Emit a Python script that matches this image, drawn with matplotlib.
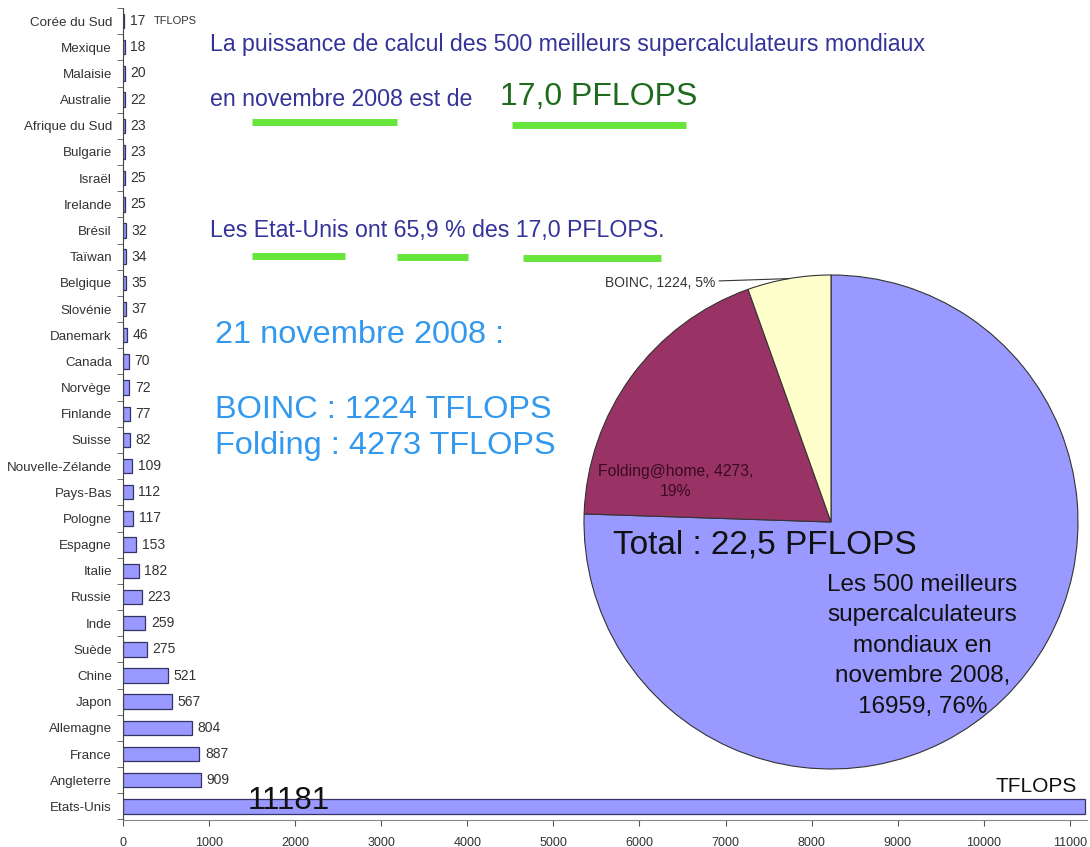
import matplotlib
matplotlib.use("Agg")
import matplotlib.pyplot as plt
import numpy as np

plt.rcParams['font.family'] = ['Liberation Sans', 'DejaVu Sans']

countries = ["Corée du Sud", "Mexique", "Malaisie", "Australie", "Afrique du Sud",
             "Bulgarie", "Israël", "Irelande", "Brésil", "Taïwan", "Belgique",
             "Slovénie", "Danemark", "Canada", "Norvège", "Finlande", "Suisse",
             "Nouvelle-Zélande", "Pays-Bas", "Pologne", "Espagne", "Italie",
             "Russie", "Inde", "Suède", "Chine", "Japon", "Allemagne", "France",
             "Angleterre", "Etats-Unis"]
tflops = [17, 18, 20, 22, 23, 23, 25, 25, 32, 34, 35, 37, 46, 70, 72, 77, 82,
          109, 112, 117, 153, 182, 223, 259, 275, 521, 567, 804, 887, 909, 11181]
xticks = list(range(0, 11001, 1000))

pie_labels = ["Les 500 meilleurs\nsupercalculateurs\nmondiaux en\nnovembre 2008,\n16959, 76%",
              "Folding@home, 4273,\n19%", "BOINC, 1224, 5%"]
pie_values = [16959, 4273, 1224]
pie_colors = ["#9999FF", "#993366", "#FFFFCC"]

W, H = 1090, 847
fig = plt.figure(figsize=(W / 100, H / 100), dpi=100)

def fx(px):
    return px / W

def fy(py):
    return 1 - py / H

# ---- bar chart ----
ax = fig.add_axes([fx(123), fy(820), fx(1087) - fx(123), fy(8) - fy(820)])
n = len(countries)
ypos = np.arange(n)[::-1]  # first country at top
ax.barh(ypos, tflops, height=0.55, color="#9999FF", edgecolor="#333366", linewidth=0.9)
ax.set_xlim(0, 11200)
ax.set_ylim(-0.52, n - 1 + 0.42)
ax.set_yticks(ypos)
ax.set_yticklabels(countries, fontsize=9.6, color="#333333")
ax.set_yticks(np.arange(-0.5, n, 1), minor=True)
ax.tick_params(axis='y', which='major', length=0, pad=8)
ax.tick_params(axis='y', which='minor', length=4, color="#555555", direction='out')
ax.set_xticks(xticks)
ax.set_xticklabels([str(t) for t in xticks], fontsize=9, color="#333333")
ax.tick_params(axis='x', length=4, color="#555555", pad=8)
for s in ["top", "right"]:
    ax.spines[s].set_visible(False)
ax.spines["left"].set_color("#444444")
ax.spines["bottom"].set_color("#888888")

for i, (c, v) in enumerate(zip(countries, tflops)):
    y = ypos[i]
    if v > 5000:
        continue
    ax.annotate(str(v), (v, y), xytext=(4, 0), textcoords="offset points",
                va="center", ha="left", fontsize=10, color="#333333")
# small unit label for the first row
ax.annotate("TFLOPS", (tflops[0], ypos[0]), xytext=(21, 0), textcoords="offset points",
            va="center", ha="left", fontsize=8, color="#333333")
# big label on the US bar
ax.text(1450, ypos[-1] + 0.2, str(tflops[-1]), fontsize=22.5, color="#111111",
        ha="left", va="center")
ax.text(10140, ypos[-1] + 0.75, "TFLOPS", fontsize=15, color="#111111",
        ha="left", va="center")

# ---- pie chart ----
cx, cy, r = 831, 522, 247
pax = fig.add_axes([fx(cx - r), fy(cy + r), fx(2 * r), fy(cy - r) - fy(cy + r)])
pax.patch.set_alpha(0)
wedges, _ = pax.pie(pie_values, colors=pie_colors, startangle=90, counterclock=False,
                    wedgeprops=dict(edgecolor="#333333", linewidth=0.8), radius=1)
pax.set_xlim(-1, 1)
pax.set_ylim(-1, 1)
pax.set_aspect('auto')
pax.axis('off')

pax.text(0.37, -0.50, pie_labels[0], fontsize=17.5, ha="center", va="center",
         color="#111111", linespacing=1.5)
pax.text(-0.63, 0.165, pie_labels[1], fontsize=11.3, ha="center", va="center",
         color="#3a0a20", linespacing=1.4)
mid = np.deg2rad(90 + 0.5 * 360 * pie_values[2] / sum(pie_values))
pax.annotate(pie_labels[2], (np.cos(mid), np.sin(mid)), xytext=(-0.47, 0.968),
             textcoords="data", ha="right", va="center", fontsize=10, color="#333333",
             arrowprops=dict(arrowstyle="-", color="#333333", lw=0.8,
                             shrinkA=1, shrinkB=0))

# ---- free texts ----
navy = "#333399"
fig.text(fx(210), fy(45), "La puissance de calcul des 500 meilleurs supercalculateurs mondiaux",
         fontsize=16.7, color=navy, ha="left", va="center")
fig.text(fx(210), fy(100), "en novembre 2008 est de", fontsize=16.7, color=navy,
         ha="left", va="center")
fig.text(fx(500), fy(97), "17,0 PFLOPS", fontsize=23, color="#1E6B1E",
         ha="left", va="center")
fig.text(fx(210), fy(231), "Les Etat-Unis ont 65,9 % des 17,0 PFLOPS.", fontsize=16.7,
         color=navy, ha="left", va="center")
lb = "#3399EE"
fig.text(fx(215), fy(335), "21 novembre 2008 :", fontsize=23.4, color=lb, ha="left", va="center")
fig.text(fx(215), fy(410), "BOINC : 1224 TFLOPS", fontsize=23.4, color=lb, ha="left", va="center")
fig.text(fx(215), fy(446), "Folding : 4273 TFLOPS", fontsize=23.4, color=lb, ha="left", va="center")
fig.text(fx(613), fy(545), "Total : 22,5 PFLOPS", fontsize=24, color="#111111",
         ha="left", va="center")

# green underlines
for x0, x1, yy in [(252, 397, 122), (512, 686, 125), (252, 345, 256),
                   (397, 468, 257), (523, 661, 258)]:
    fig.add_artist(plt.Line2D([fx(x0), fx(x1)], [fy(yy), fy(yy)], color="#66E63A",
                              linewidth=5, solid_capstyle="butt", transform=fig.transFigure))

fig.savefig("out.png", dpi=100)
